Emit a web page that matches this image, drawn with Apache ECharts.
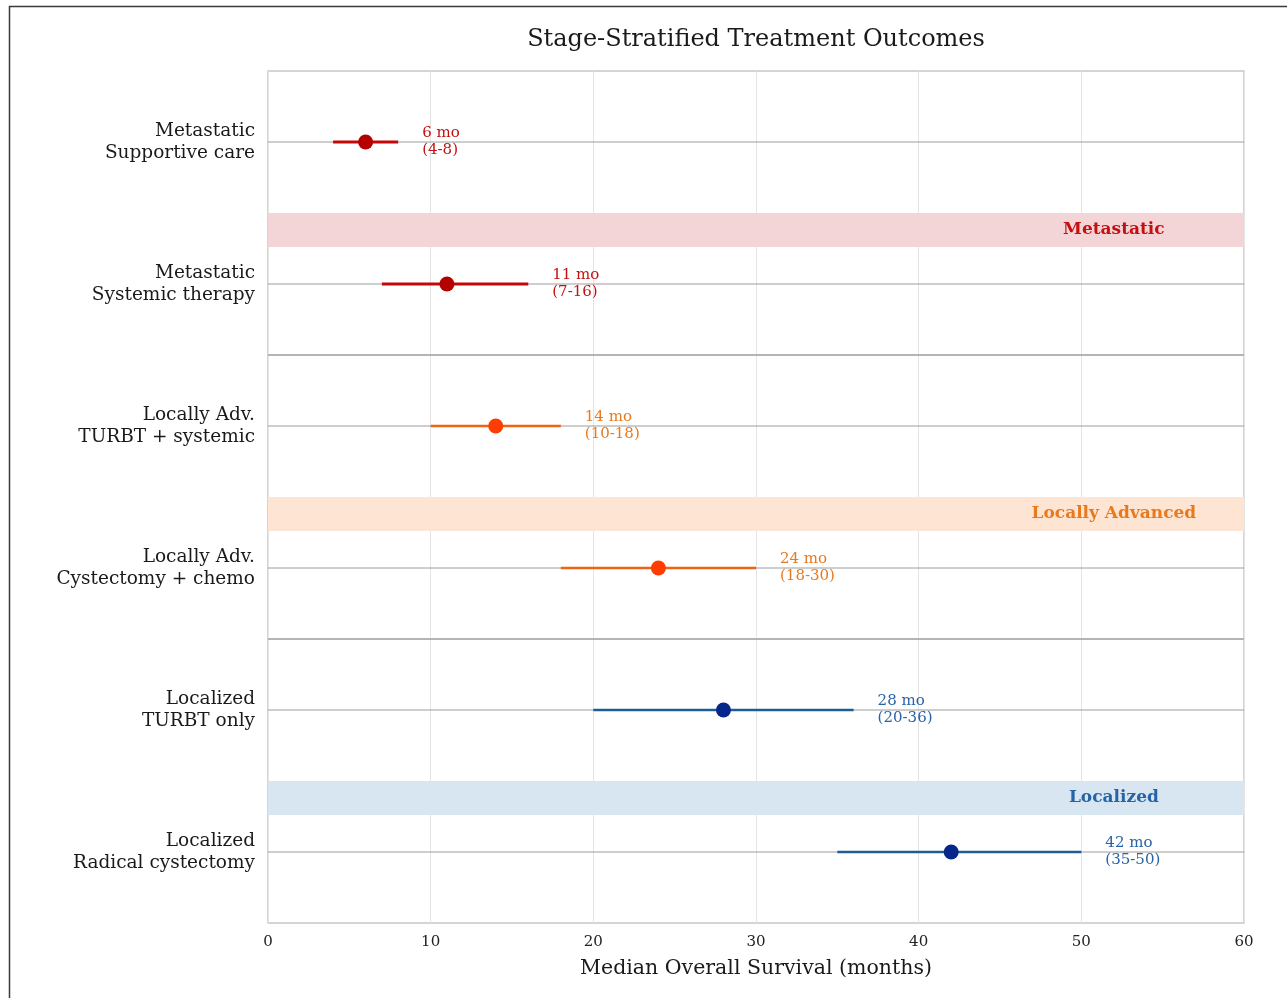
<!DOCTYPE html>
<html>
<head>
<meta charset="utf-8">
<script src="https://cdn.jsdelivr.net/npm/echarts@6/dist/echarts.min.js"></script>
<style>
html,body{margin:0;padding:0;background:#fff;}
#chart{width:1287px;height:998px;}
</style>
</head>
<body>
<div id="chart"></div>
<script>
// ---- data ----
const categories = [
  'Metastatic\nSupportive care',
  'Metastatic\nSystemic therapy',
  'Locally Adv.\nTURBT + systemic',
  'Locally Adv.\nCystectomy + chemo',
  'Localized\nTURBT only',
  'Localized\nRadical cystectomy'
];
const stageOfRow = ['Metastatic','Metastatic','Locally Advanced','Locally Advanced','Localized','Localized'];
const medianOS = [6, 11, 14, 24, 28, 42];
const lowerCI  = [4, 7, 10, 18, 20, 35];
const upperCI  = [8, 16, 18, 30, 36, 50];
const stageNames = ['Metastatic', 'Locally Advanced', 'Localized'];
const xTicks = [0, 10, 20, 30, 40, 50, 60];

// ---- styles ----
const stageStyle = {
  'Metastatic':       {line:'#c40808', marker:'#b50000', text:'#c41010', band:'#f3d5d8', lw:3.2},
  'Locally Advanced': {line:'#ee6412', marker:'#ff3d00', text:'#e8791c', band:'#fde4d3', lw:2.6},
  'Localized':        {line:'#1f5c92', marker:'#05278a', text:'#2763a6', band:'#d7e6f0', lw:2.6}
};
const bandStart = [1.0, 3.0, 5.0];   // hidden value-axis positions
const bandHeight = 0.24;
const separators = [2.0, 4.0];
const serif = '"DejaVu Serif", serif';

const chart = echarts.init(document.getElementById('chart'));

const rowData = categories.map((c, i) => [lowerCI[i], upperCI[i], medianOS[i], i]);

chart.setOption({
  backgroundColor: '#fff',
  animation: false,
  title: {
    text: 'Stage-Stratified Treatment Outcomes',
    left: 751, top: 23, textAlign: 'center',
    textStyle: {fontFamily: serif, fontSize: 24, fontWeight: 'normal', color: '#1a1a1a'}
  },
  graphic: [{
    type: 'rect', left: 7, top: 4, silent: true,
    shape: {width: 1300, height: 1010},
    style: {fill: 'none', stroke: '#3a3a3a', lineWidth: 1.5}
  }],
  grid: {left: 268, right: 43, top: 71, bottom: 75, show: true, borderColor: '#c8c8c8', borderWidth: 1.5, backgroundColor: 'transparent'},
  xAxis: {
    type: 'value', min: 0, max: 60, interval: 10,
    name: 'Median Overall Survival (months)', nameLocation: 'middle', nameGap: 35,
    nameTextStyle: {fontFamily: serif, fontSize: 20.5, color: '#1a1a1a'},
    axisLine: {show: false}, axisTick: {show: false},
    axisLabel: {fontFamily: serif, fontSize: 15, color: '#222', margin: 12,
      formatter: v => xTicks.includes(v) ? String(v) : ''},
    splitLine: {show: true, lineStyle: {color: '#e4e4e4', width: 1}}
  },
  yAxis: [{
    type: 'category', data: categories, inverse: true, boundaryGap: true,
    axisLine: {show: false}, axisTick: {show: false}, splitLine: {show: false},
    axisLabel: {fontFamily: serif, fontSize: 18.5, color: '#1a1a1a', margin: 13, lineHeight: 22, align: 'right'}
  }, {
    type: 'value', min: 0, max: 6, inverse: true, show: false,
    splitLine: {show: false}
  }],
  series: [
    { // stage bands + separators (hidden value axis)
      type: 'custom', yAxisIndex: 1, z: 1, silent: true,
      data: stageNames.map((s, k) => [bandStart[k], k]),
      renderItem: function (params, api) {
        const k = api.value(1);
        const s = stageNames[k];
        const st = stageStyle[s];
        const p0 = api.coord([0, bandStart[k]]);
        const p1 = api.coord([60, bandStart[k] + bandHeight]);
        const pc = api.coord([52, bandStart[k] + bandHeight / 2]);
        const children = [{
          type: 'rect',
          shape: {x: p0[0], y: p0[1], width: p1[0] - p0[0], height: p1[1] - p0[1]},
          style: {fill: st.band}
        }, {
          type: 'text',
          style: {x: pc[0], y: pc[1], text: s, align: 'center', verticalAlign: 'middle',
            fill: st.text, font: 'bold 17px ' + serif}
        }];
        if (k < separators.length) {
          const a = api.coord([0, separators[k]]);
          const b = api.coord([60, separators[k]]);
          children.push({type: 'line', shape: {x1: a[0], y1: a[1], x2: b[0], y2: b[1]},
            style: {stroke: '#b4b4b4', lineWidth: 2}});
        }
        return {type: 'group', children: children};
      }
    },
    { // row lines + CI bars + labels
      type: 'custom', yAxisIndex: 0, z: 3, silent: true,
      data: rowData,
      renderItem: function (params, api) {
        const i = api.value(3);
        const st = stageStyle[stageOfRow[i]];
        const r0 = api.coord([0, i]);
        const r1 = api.coord([60, i]);
        const lo = api.coord([api.value(0), i]);
        const hi = api.coord([api.value(1), i]);
        return {type: 'group', children: [
          {type: 'line', shape: {x1: r0[0], y1: r0[1], x2: r1[0], y2: r1[1]},
            style: {stroke: '#9c9c9c', lineWidth: 1}},
          {type: 'line', shape: {x1: lo[0], y1: lo[1], x2: hi[0], y2: hi[1]},
            style: {stroke: st.line, lineWidth: st.lw}},
          {type: 'text', style: {x: hi[0] + 24, y: hi[1], text: api.value(2) + ' mo\n(' + api.value(0) + '-' + api.value(1) + ')',
            align: 'left', verticalAlign: 'middle', fill: st.text, font: '15px ' + serif, lineHeight: 17}}
        ]};
      }
    },
    { // median markers
      type: 'scatter', yAxisIndex: 0, z: 5, silent: true,
      symbol: 'circle', symbolSize: 15,
      data: medianOS.map((m, i) => ({
        value: [m, i],
        itemStyle: {color: stageStyle[stageOfRow[i]].marker, opacity: 1}
      }))
    }
  ]
});
</script>
</body>
</html>
